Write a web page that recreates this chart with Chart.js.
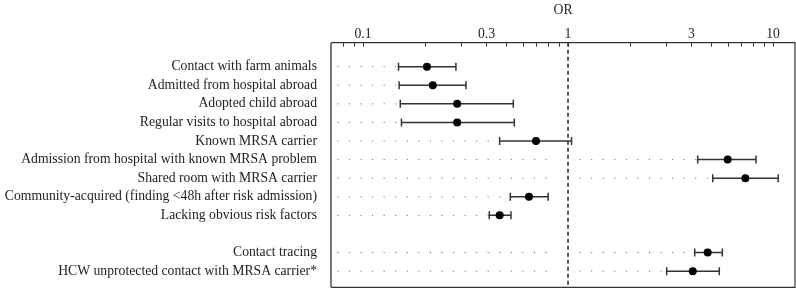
<!DOCTYPE html>
<html>
<head>
<script src="https://cdn.jsdelivr.net/npm/chart.js@4.4.0/dist/chart.umd.min.js"></script>
<title>MRSA risk factors - OR</title>
<style>
  body { margin: 0; background: #fff; }
</style>
</head>
<body>
<canvas id="forest" width="796" height="290"></canvas>
<script>
// rows of the forest plot (row 10 is left empty as a spacer)
const rowLabels = [
  'Contact with farm animals',
  'Admitted from hospital abroad',
  'Adopted child abroad',
  'Regular visits to hospital abroad',
  'Known MRSA carrier',
  'Admission from hospital with known MRSA problem',
  'Shared room with MRSA carrier',
  'Community-acquired (finding <48h after risk admission)',
  'Lacking obvious risk factors',
  'Contact tracing',
  'HCW unprotected contact with MRSA carrier*'
];
const rowPos = [1, 2, 3, 4, 5, 6, 7, 8, 9, 11, 12];
const orValues = [0.205, 0.219, 0.288, 0.288, 0.698, 6.01, 7.33, 0.645, 0.464, 4.80, 4.06];
const ciLow    = [0.149, 0.150, 0.152, 0.154, 0.464, 4.29, 5.08, 0.523, 0.413, 4.15, 3.03];
const ciHigh   = [0.284, 0.318, 0.541, 0.547, 1.04, 8.26, 10.6, 0.80, 0.527, 5.66, 5.47];

// axis ticks (the labels sit where the original figure put them)
const minorTicks = [0.08, 0.09, 0.1, 0.2, 0.3, 0.4, 0.5, 0.6, 0.7, 0.8, 0.9,
                    1, 2, 3, 4, 5, 6, 7, 8, 9, 10];
const tickLabelPos = [0.1, 0.4, 1, 4, 10];
const tickLabelText = ['0.1', '0.3', '1', '3', '10'];

const xMin = 0.0698, xMax = 12.8;
const yMin = -0.29, yMax = 12.87;
const dotStart = 0.075, dotLeftStop = 0.88, dotRightStart = 1.14;
const serif = 'Liberation Serif';

// dotted guide lines from the left edge to the interval
let guides = [];
rowPos.forEach((r, i) => {
  const lo = ciLow[i];
  guides.push([{x: dotStart, y: r}, {x: Math.min(lo, dotLeftStop), y: r}]);
  if (lo > 1) guides.push([{x: dotRightStart, y: r}, {x: lo, y: r}]);
});

const datasets = [];
datasets.push({
  type: 'scatter',
  data: rowPos.map((r, i) => ({x: orValues[i], y: r})),
  pointRadius: 4,
  pointBackgroundColor: '#000',
  pointBorderColor: '#000',
  pointBorderWidth: 0
});
rowPos.forEach((r, i) => {
  datasets.push({
    type: 'line',
    data: [{x: ciLow[i], y: r}, {x: ciHigh[i], y: r}],
    borderColor: '#333',
    borderWidth: 1.5,
    pointStyle: 'line',
    rotation: 90,
    pointRadius: 4,
    pointBorderWidth: 1.5,
    pointBorderColor: '#333'
  });
});
datasets.push({
  type: 'line',
  data: [{x: 1, y: yMin}, {x: 1, y: yMax}],
  borderColor: '#222',
  borderWidth: 1.5,
  borderDash: [4, 3],
  pointRadius: 0
});
guides.forEach(g => {
  datasets.push({
    type: 'line',
    data: g,
    borderColor: '#555',
    borderWidth: 1,
    borderDash: [1, 10.56],
    pointRadius: 0
  });
});

const frame = {
  id: 'frame',
  afterDatasetsDraw(chart) {
    const {ctx, chartArea: a, scales} = chart;
    ctx.save();
    ctx.strokeStyle = '#333';
    ctx.lineWidth = 1;
    minorTicks.forEach(v => {
      const px = Math.round(scales.x.getPixelForValue(v)) + 0.5;
      ctx.beginPath();
      ctx.moveTo(px, a.top);
      ctx.lineTo(px, a.top + 4);
      ctx.stroke();
    });
    ctx.lineWidth = 1.2;
    ctx.beginPath();
    ctx.moveTo(a.left, a.top);
    ctx.lineTo(a.right, a.top);
    ctx.lineTo(a.right, a.bottom);
    ctx.lineTo(a.left, a.bottom);
    ctx.stroke();
    ctx.strokeStyle = '#777';
    ctx.lineWidth = 2;
    ctx.beginPath();
    ctx.moveTo(a.left, a.top);
    ctx.lineTo(a.left, a.bottom);
    ctx.stroke();
    ctx.restore();
  }
};

function noPad(axis) {
  axis.paddingTop = 0;
  axis.paddingBottom = 0;
  axis.paddingLeft = 0;
  axis.paddingRight = 0;
}

new Chart(document.getElementById('forest'), {
  data: {datasets: datasets},
  options: {
    responsive: false,
    animation: false,
    devicePixelRatio: 1,
    layout: {autoPadding: false, padding: {left: 0, right: 1, top: 0, bottom: 2.7}},
    plugins: {legend: {display: false}, tooltip: {enabled: false}},
    scales: {
      x: {
        type: 'logarithmic',
        position: 'top',
        min: xMin,
        max: xMax,
        grid: {display: false, drawTicks: false},
        border: {display: false},
        afterBuildTicks(axis) {
          axis.ticks = minorTicks.map(v => ({value: v}));
        },
        afterFit(axis) { axis.height = 42.7; noPad(axis); },
        ticks: {
          autoSkip: false,
          maxRotation: 0,
          padding: 0,
          color: '#222',
          font: {family: serif, size: 13.7},
          callback(value) {
            const k = tickLabelPos.findIndex(p => Math.abs(p - value) < 1e-9);
            return k >= 0 ? tickLabelText[k] : '';
          }
        },
        title: {
          display: true,
          text: 'OR',
          color: '#222',
          font: {family: serif, size: 13.7},
          padding: {top: 2, bottom: 0}
        }
      },
      y: {
        type: 'linear',
        reverse: true,
        min: yMin,
        max: yMax,
        grid: {display: false, drawTicks: false},
        border: {display: false},
        afterBuildTicks(axis) {
          axis.ticks = rowPos.map(v => ({value: v}));
        },
        afterFit(axis) { axis.width = 331; noPad(axis); },
        ticks: {
          autoSkip: false,
          padding: 14,
          color: '#222',
          font: {family: serif, size: 13.7},
          callback(value) {
            const k = rowPos.indexOf(value);
            return k >= 0 ? rowLabels[k] : '';
          }
        }
      }
    }
  },
  plugins: [frame]
});
</script>
</body>
</html>
